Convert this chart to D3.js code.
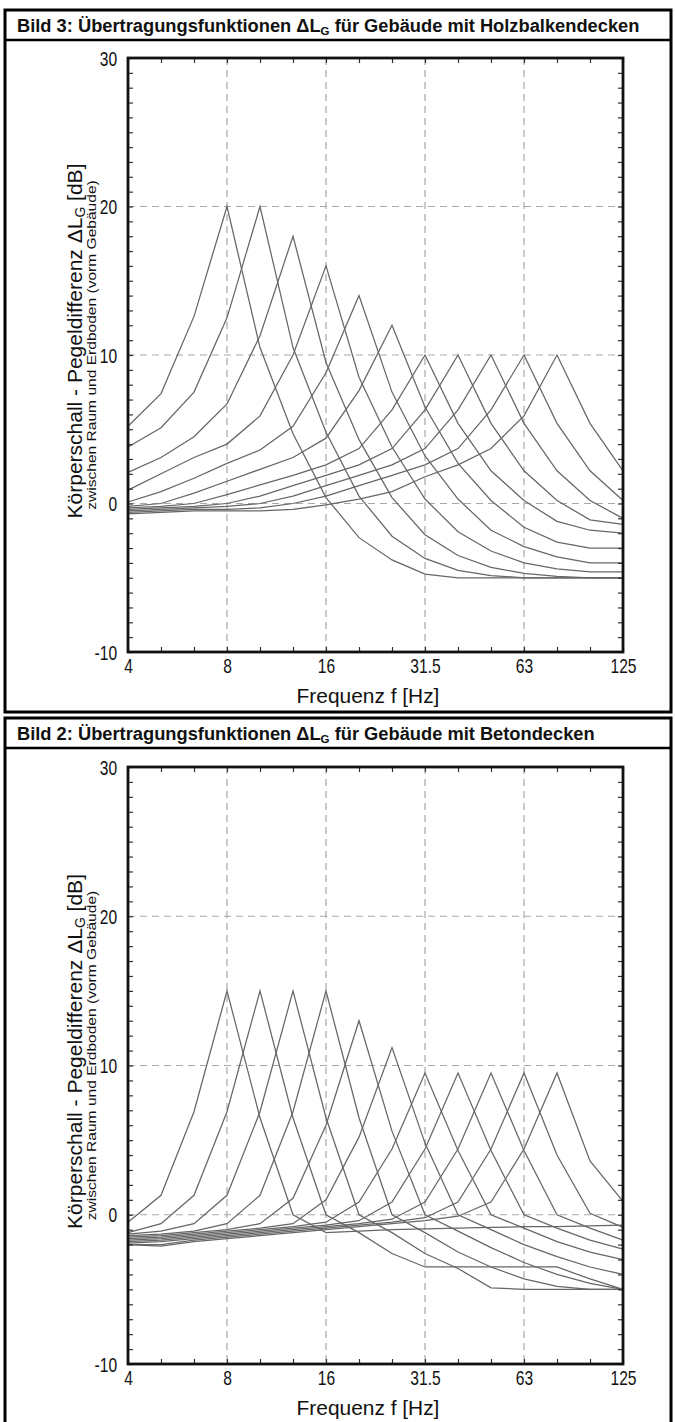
<!DOCTYPE html>
<html>
<head>
<meta charset="utf-8">
<script src="https://cdn.jsdelivr.net/npm/d3@7"></script>
<style>
  html, body { margin: 0; padding: 0; background: #fff; }
  svg { display: block; }
  text { font-family: "Liberation Sans", Arial, sans-serif; }
</style>
</head>
<body>
<div id="chart"></div>
<script>
// 1/3-octave bands on the x axis
const bands = ["4", "5", "6.3", "8", "10", "12.5", "16", "20", "25", "31.5", "40", "50", "63", "80", "100", "125"];
const bandLabels = ["4", "8", "16", "31.5", "63", "125"];
const yLabels = [-10, 0, 10, 20, 30];
const xGrid = ["8", "16", "31.5", "63"];
const yGrid = [0, 10, 20];

// Bild 3: Holzbalkendecken, one row per curve, values in dB per band
const holzSeries = [
  [5.2, 7.4, 12.6, 20, 10.5, 4.7, 0.4, -2.3, -3.8, -4.75, -5, -5, -5, -5, -5, -5],
  [3.8, 5.1, 7.5, 12.5, 20, 10.5, 4.8, 0.5, -2.2, -3.7, -4.5, -4.85, -5, -5, -5, -5],
  [2.1, 3.1, 4.5, 6.7, 11.3, 18, 9.5, 4.3, 0.4, -2.1, -3.5, -4.3, -4.7, -4.9, -5, -5],
  [0.9, 2.0, 3.1, 4.0, 5.9, 10.0, 16, 8.5, 3.8, 0.3, -1.9, -3.2, -4.0, -4.4, -4.6, -4.6],
  [0.1, 0.8, 1.7, 2.7, 3.6, 5.2, 8.8, 14, 7.5, 3.2, 0.3, -1.8, -2.9, -3.6, -4.0, -4.0],
  [-0.2, 0.0, 0.7, 1.5, 2.3, 3.1, 4.4, 7.6, 12, 6.5, 2.7, 0.2, -1.6, -2.6, -3.0, -3.0],
  [-0.3, -0.2, 0.0, 0.6, 1.25, 1.9, 2.6, 3.7, 6.3, 10, 5.4, 2.2, 0.2, -1.2, -1.8, -2.0],
  [-0.4, -0.3, -0.2, 0.0, 0.5, 1.2, 1.9, 2.6, 3.7, 6.3, 10, 5.4, 2.2, 0.2, -1.1, -1.4],
  [-0.5, -0.4, -0.3, -0.2, 0.0, 0.5, 1.2, 1.9, 2.6, 3.7, 6.3, 10, 5.4, 2.2, 0.2, -1.0],
  [-0.6, -0.5, -0.4, -0.4, -0.3, 0.0, 0.5, 1.2, 1.9, 2.6, 3.7, 6.3, 10, 5.4, 2.2, 0.2],
  [-0.7, -0.6, -0.5, -0.5, -0.5, -0.4, -0.1, 0.3, 0.8, 1.8, 2.6, 3.7, 5.9, 10, 5.4, 2.2]
];

// Bild 2: Betondecken
const betonSeries = [
  [-0.5, 1.3, 6.9, 15, 6.5, 0.0, -1.2, -1.1, -1.0, -0.95, -0.9, -0.85, -0.8, -0.8, -0.75, -0.7],
  [-1.2, -0.6, 1.3, 6.9, 15, 6.5, 0.0, -1.2, -2.6, -3.5, -3.5, -3.5, -3.5, -3.5, -4.3, -5.0],
  [-1.3, -1.1, -0.6, 1.3, 6.9, 15, 6.5, 0.0, -1.2, -2.6, -3.6, -4.9, -5, -5, -5, -5],
  [-1.4, -1.3, -1.1, -0.6, 1.3, 6.9, 15, 6.5, 0.0, -1.2, -2.5, -3.5, -4.3, -4.8, -5, -5],
  [-1.5, -1.4, -1.2, -1.0, -0.6, 1.1, 6.0, 13, 5.6, 0.0, -1.1, -2.2, -3.2, -4.0, -4.6, -5.0],
  [-1.6, -1.5, -1.3, -1.1, -0.9, -0.6, 1.0, 5.2, 11.2, 4.8, 0.0, -1.0, -2.0, -2.8, -3.5, -4.0],
  [-1.7, -1.6, -1.4, -1.2, -1.0, -0.8, -0.5, 0.85, 4.4, 9.5, 4.3, 0.0, -0.9, -1.8, -2.5, -3.0],
  [-1.8, -1.7, -1.5, -1.3, -1.1, -0.9, -0.7, -0.4, 0.85, 4.4, 9.5, 4.3, 0.0, -0.9, -1.7, -2.3],
  [-1.9, -1.8, -1.6, -1.4, -1.2, -1.0, -0.8, -0.6, -0.3, 0.85, 4.4, 9.5, 4.3, 0.0, -0.9, -1.7],
  [-2.0, -2.0, -1.7, -1.5, -1.3, -1.1, -0.9, -0.7, -0.5, -0.2, 0.85, 4.4, 9.5, 4.0, 0.1, -0.85],
  [-2.0, -2.1, -1.8, -1.6, -1.4, -1.2, -1.0, -0.8, -0.6, -0.4, -0.1, 0.85, 4.4, 9.5, 3.6, 0.9]
];

const width = 675;
const height = 1422;
const squeeze = 0.78; // the source uses a condensed face

const svg = d3.select("#chart")
  .append("svg")
  .attr("width", width)
  .attr("height", height);

const x = d3.scalePoint()
  .domain(bands)
  .range([128, 623]);

// stretch a text element along its own direction to a given length
const fitLength = (sel, target) => {
  const len = sel.node().getComputedTextLength();
  const t = sel.attr("transform") || "";
  sel.attr("transform", `${t} scale(${target / len},1)`);
};

/**
 * Draw one framed figure (title bar + chart)
 */
const drawPanel = (opts) => {
  const g = svg.append("g");

  // outer box and title bar
  g.append("rect")
    .attr("x", 5)
    .attr("y", opts.boxTop)
    .attr("width", 666)
    .attr("height", opts.boxHeight)
    .attr("fill", "none")
    .attr("stroke", "#000")
    .attr("stroke-width", 3);

  g.append("line")
    .attr("x1", 5)
    .attr("x2", 671)
    .attr("y1", opts.boxTop + 30)
    .attr("y2", opts.boxTop + 30)
    .attr("stroke", "#000")
    .attr("stroke-width", 2.5);

  const title = g.append("text")
    .attr("x", 17)
    .attr("y", opts.boxTop + 22)
    .style("font-weight", "bold")
    .style("font-size", "18.3px")
    .attr("fill", "#111");
  title.append("tspan").text(opts.titleStart + " \u0394L");
  title.append("tspan").attr("dy", 3).style("font-size", "11.5px").text("G");
  title.append("tspan").attr("dy", -3).text(" " + opts.titleEnd);

  const y = d3.scaleLinear()
    .domain([-10, 30])
    .range([opts.yBottom, opts.yTop]);

  // dashed grid
  g.selectAll("line.vgrid")
    .data(xGrid)
    .enter()
    .append("line")
    .attr("class", "vgrid")
    .attr("x1", d => x(d))
    .attr("x2", d => x(d))
    .attr("y1", y(30))
    .attr("y2", y(-10))
    .attr("stroke", "#a8a8a8")
    .attr("stroke-width", 1.2)
    .attr("stroke-dasharray", "7,5");

  g.selectAll("line.hgrid")
    .data(yGrid)
    .enter()
    .append("line")
    .attr("class", "hgrid")
    .attr("x1", x.range()[0])
    .attr("x2", x.range()[1])
    .attr("y1", d => y(d))
    .attr("y2", d => y(d))
    .attr("stroke", "#a8a8a8")
    .attr("stroke-width", 1.2)
    .attr("stroke-dasharray", "7,5");

  // curves
  const line = d3.line()
    .x((d, i) => x(bands[i]))
    .y(d => y(d));

  g.selectAll("path.curve")
    .data(opts.series)
    .enter()
    .append("path")
    .attr("class", "curve")
    .attr("d", line)
    .attr("fill", "none")
    .attr("stroke", "#666")
    .attr("stroke-width", 1.25);

  // axes with inward ticks
  const minor = d3.range(-10, 31);
  const left = g.append("g")
    .attr("transform", `translate(${x.range()[0]},0)`)
    .call(d3.axisLeft(y).tickValues(minor).tickSize(-5).tickPadding(14)
      .tickFormat(d => yLabels.includes(d) ? d : ""));
  const right = g.append("g")
    .attr("transform", `translate(${x.range()[1]},0)`)
    .call(d3.axisRight(y).tickValues(minor).tickSize(-5).tickFormat(""));
  const bottom = g.append("g")
    .attr("transform", `translate(0,${y(-10)})`)
    .call(d3.axisBottom(x).tickSize(-5).tickPadding(5)
      .tickFormat(d => bandLabels.includes(d) ? d : ""));
  const top = g.append("g")
    .attr("transform", `translate(0,${y(30)})`)
    .call(d3.axisTop(x).tickSize(-5).tickFormat(""));

  [left, right, bottom, top].forEach(a => {
    a.select(".domain").remove();
    a.selectAll(".tick line").attr("stroke", "#333").attr("stroke-width", 1.2);
    a.selectAll(".tick text")
      .attr("fill", "#111")
      .attr("font-family", null)
      .attr("font-size", null)
      .style("font-size", "20px")
      .attr("transform", `scale(${squeeze},1)`);
  });
  bottom.selectAll(".tick text").attr("dy", "0.82em");
  left.selectAll(".tick text").attr("dy", "0.36em");

  // plot frame
  g.append("rect")
    .attr("x", x.range()[0])
    .attr("y", y(30))
    .attr("width", x.range()[1] - x.range()[0])
    .attr("height", y(-10) - y(30))
    .attr("fill", "none")
    .attr("stroke", "#111")
    .attr("stroke-width", 2.8);

  // axis titles
  const xt = g.append("text")
    .attr("transform", `translate(368,${y(-10) + 51})`)
    .attr("text-anchor", "middle")
    .style("font-size", "21px")
    .attr("fill", "#111")
    .text("Frequenz f  [Hz]");
  fitLength(xt, 143);

  const yMid = (y(30) + y(-10)) / 2;
  const yt = g.append("text")
    .attr("transform", `translate(82,${yMid - 14}) rotate(-90)`)
    .attr("text-anchor", "middle")
    .style("font-size", "21px")
    .attr("fill", "#111");
  yt.append("tspan").text("K\u00f6rperschall - Pegeldifferenz \u0394L");
  yt.append("tspan").attr("dy", 3).style("font-size", "14px").text("G");
  yt.append("tspan").attr("dy", -3).text("  [dB]");
  fitLength(yt, 355);

  const ys = g.append("text")
    .attr("transform", `translate(96,${yMid - 10}) rotate(-90)`)
    .attr("text-anchor", "middle")
    .style("font-size", "13px")
    .attr("fill", "#111")
    .text("zwischen Raum und Erdboden (vorm Geb\u00e4ude)");
  fitLength(ys, 330);
};

drawPanel({
  boxTop: 10,
  boxHeight: 702,
  titleStart: "Bild 3: \u00dcbertragungsfunktionen",
  titleEnd: "f\u00fcr Geb\u00e4ude mit Holzbalkendecken",
  yTop: 58,
  yBottom: 652,
  series: holzSeries
});

drawPanel({
  boxTop: 718,
  boxHeight: 720,
  titleStart: "Bild 2: \u00dcbertragungsfunktionen",
  titleEnd: "f\u00fcr Geb\u00e4ude mit Betondecken",
  yTop: 767,
  yBottom: 1364,
  series: betonSeries
});
</script>
</body>
</html>
